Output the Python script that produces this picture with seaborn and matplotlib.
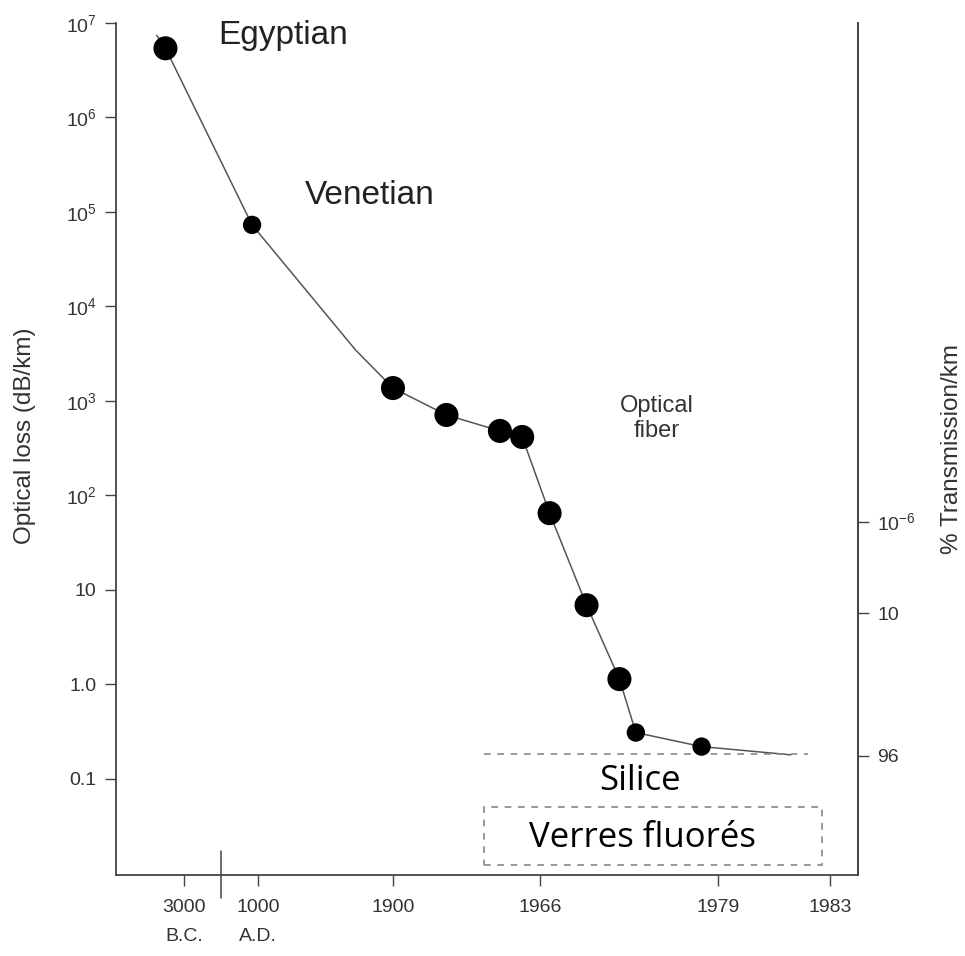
import numpy as np
import pandas as pd
import matplotlib
matplotlib.use("Agg")
import matplotlib.pyplot as plt
import matplotlib.transforms as mtransforms
from matplotlib.patches import Rectangle
import seaborn as sns

# ---------------- data ----------------
line_years = [-5200, -4500, 840, 1650, 1900, 1924, 1948, 1958, 1966.7, 1969.4, 1971.8, 1973.0, 1977.8, 1981.6]
line_loss = [7.4e6, 5.4e6, 7.3e4, 3470, 1370, 711, 482, 416, 65, 6.9, 1.14, 0.31, 0.22, 0.18]

marker_years = [-4500, 840, 1900, 1924, 1948, 1958, 1966.7, 1969.4, 1971.8, 1973.0, 1977.8]
marker_loss = [5.4e6, 7.3e4, 1370, 711, 482, 416, 65, 6.9, 1.14, 0.31, 0.22]
marker_class = ["big", "small", "big", "big", "big", "big", "big", "big", "big", "small", "small"]

x_tick_years = [-3000, 1000, 1900, 1966, 1979, 1983]
x_tick_labels = ["3000\nB.C.", "1000\nA.D.", "1900", "1966", "1979", "1983"]
y_ticks = [1e7, 1e6, 1e5, 1e4, 1e3, 1e2, 10, 1.0, 0.1]
y_tick_labels = ["10$^{7}$", "10$^{6}$", "10$^{5}$", "10$^{4}$", "10$^{3}$", "10$^{2}$", "10", "1.0", "0.1"]
right_ticks = [53, 5.7, 0.175]
right_tick_labels = ["10$^{-6}$", "10", "96"]

silice_level = 0.184
silice_span = [1941, 1982.2]
fluor_box_x = [1941, 1982.7]
fluor_box_y = [0.0123, 0.0506]

# ---------------- piecewise timeline scale (layout) ----------------
scale_years = np.array([-8500, -3000, 0, 1000, 1900, 1966, 1979, 1983, 1984], dtype=float)
scale_px = np.array([116, 184, 221, 258, 393, 540, 718, 830, 858], dtype=float)
scale_pos = (scale_px - 116) / (858 - 116)

def fwd(x):
    return np.interp(x, scale_years, scale_pos)

def inv(p):
    return np.interp(p, scale_pos, scale_years)

# ---------------- style ----------------
sns.set_theme(style="ticks")
plt.rcParams["font.family"] = ["Liberation Sans", "DejaVu Sans"]
plt.rcParams["mathtext.default"] = "regular"
plt.rcParams["axes.edgecolor"] = "#444444"
plt.rcParams["xtick.color"] = "#444444"
plt.rcParams["ytick.color"] = "#444444"

W, H = 965, 956
fig = plt.figure(figsize=(W / 100, H / 100), dpi=100)
ax = fig.add_axes([116 / W, (H - 875) / H, (858 - 116) / W, (875 - 23) / H])

line_df = pd.DataFrame({"year": line_years, "loss": line_loss})
mark_df = pd.DataFrame({"year": marker_years, "loss": marker_loss, "cls": marker_class})

sns.lineplot(data=line_df, x="year", y="loss", ax=ax, color="#555555", lw=1.1,
             sort=False, estimator=None, legend=False)
sns.scatterplot(data=mark_df, x="year", y="loss", size="cls",
                sizes={"big": 300, "small": 175}, color="black",
                edgecolor="black", linewidth=0, ax=ax, legend=False, zorder=3)

ax.set_xscale("function", functions=(fwd, inv))
ax.set_yscale("log")
ax.set_xlim(-8500, 1984)
ax.set_ylim(0.00963, 1e7)

ax.set_xticks(x_tick_years)
ax.set_xticklabels(x_tick_labels, linespacing=1.95, fontsize=14, color="#333333")
ax.set_yticks(y_ticks)
ax.set_yticklabels(y_tick_labels, fontsize=14, color="#333333")
ax.minorticks_off()
ax.tick_params(axis="both", direction="out", length=8, width=1.0, pad=6)
ax.tick_params(axis="x", pad=9)
ax.set_xlabel("")
ax.set_ylabel("Optical loss (dB/km)", fontsize=17.5, color="#333333")
ax.yaxis.set_label_coords(-0.108, 0.515)

for s in ["left", "bottom", "right"]:
    ax.spines[s].set_linewidth(1.3)
ax.spines["top"].set_visible(False)

# B.C. / A.D. separator
trans = mtransforms.blended_transform_factory(ax.transData, ax.transAxes)
ax.plot([0, 0], [0.028, -0.027], transform=trans, color="#444444", lw=1.1, clip_on=False)

# right axis
ax2 = ax.twinx()
ax2.set_yscale("log")
ax2.set_ylim(ax.get_ylim())
ax2.set_yticks(right_ticks)
ax2.set_yticklabels(right_tick_labels, fontsize=14, color="#333333")
ax2.minorticks_off()
ax2.tick_params(axis="y", direction="out", length=8, width=1.0, pad=6)
ax2.set_ylabel("% Transmission/km", fontsize=17.5, color="#333333", rotation=90, labelpad=18)
for s in ["top", "left", "bottom"]:
    ax2.spines[s].set_visible(False)
ax2.spines["right"].set_linewidth(1.3)

# annotations (positioned in axes fractions)
ax.text(0.225, 0.985, "Egyptian", transform=ax.transAxes, fontsize=24, color="#222222",
        ha="center", va="center")
ax.text(0.342, 0.798, "Venetian", transform=ax.transAxes, fontsize=24, color="#222222",
        ha="center", va="center")
ax.text(0.729, 0.536, "Optical\nfiber", transform=ax.transAxes, fontsize=17, color="#333333",
        ha="center", va="center", linespacing=1.2)

ax.plot(silice_span, [silice_level, silice_level], ls=(0, (4, 4)), color="#888888", lw=1.2)
ax.add_patch(Rectangle((fluor_box_x[0], fluor_box_y[0]), fluor_box_x[1] - fluor_box_x[0],
                       fluor_box_y[1] - fluor_box_y[0], fill=False, ls=(0, (4, 4)),
                       ec="#888888", lw=1.2))
ax.text(0.706, 0.110, "Silice", transform=ax.transAxes, fontsize=25,
        family=["Open Sans", "DejaVu Sans"], color="black", ha="center", va="center")
ax.text(0.709, 0.043, "Verres fluorés", transform=ax.transAxes, fontsize=25,
        family=["Open Sans", "DejaVu Sans"], color="black", ha="center", va="center")

fig.savefig("out.png", dpi=100)
